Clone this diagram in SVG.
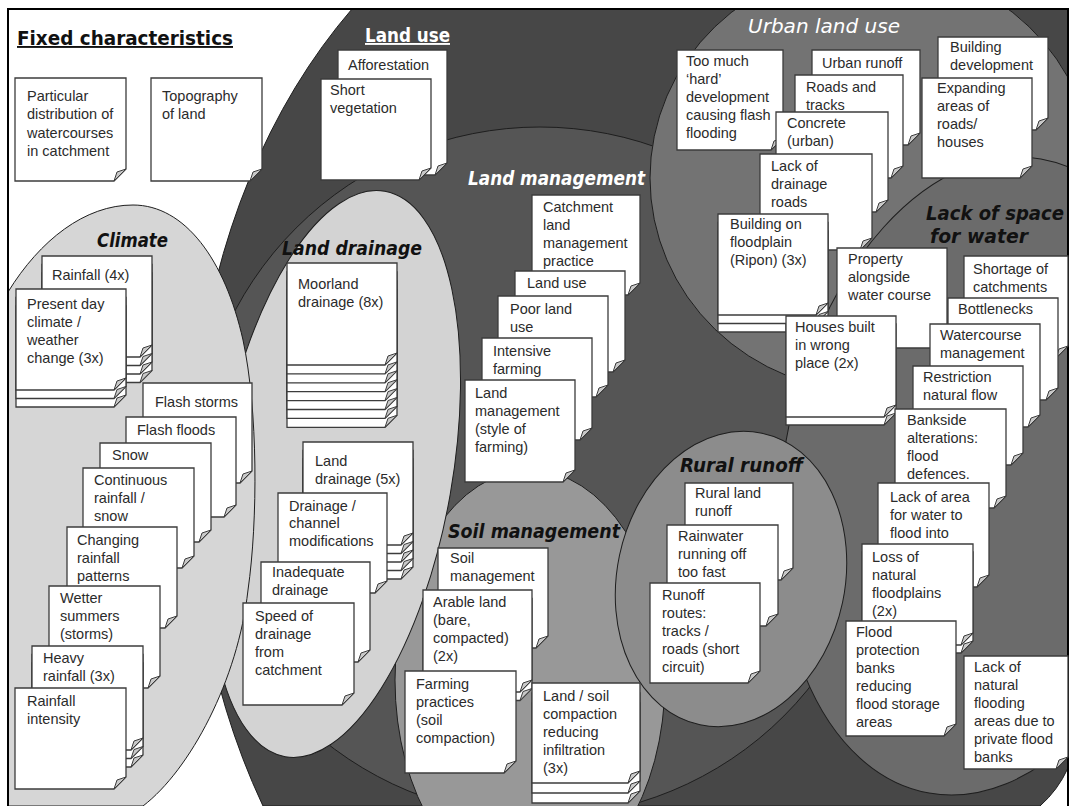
<svg xmlns="http://www.w3.org/2000/svg" width="1071" height="806" viewBox="0 0 1071 806">
<style>
.reg{stroke:#1e1e1e;stroke-width:1}
.n{fill:#fff;stroke:#3c3c3c;stroke-width:1.3}
.f{fill:#c8c8c8;stroke:#3c3c3c;stroke-width:1}
.t{font-family:"Liberation Sans",Arial,sans-serif;font-size:14.5px;fill:#2b2b2b}
.h{font-family:"DejaVu Sans","Liberation Sans",sans-serif;font-weight:bold;font-style:italic;font-size:19px}
.hw{fill:#fff}
.hb{fill:#111}
.up{font-style:normal}
.reg-w{font-weight:normal}
</style>
<defs>
<clipPath id="frame"><rect x="8" y="9" width="1060" height="797"/></clipPath>
<g id="s-ripon"><path class="n" d="M718 214H828V303L816 315H718Z"/><path class="f" d="M828 303L819 306L816 315Z"/></g>
<g id="s-rain4"><path class="n" d="M42 256H152V345L140 357H42Z"/><path class="f" d="M152 345L143 348L140 357Z"/></g>
<g id="s-present"><path class="n" d="M16 289H126V378L114 390H16Z"/><path class="f" d="M126 378L117 381L114 390Z"/></g>
<g id="s-heavy"><path class="n" d="M32 646H143V738L131 750H32Z"/><path class="f" d="M143 738L134 741L131 750Z"/></g>
<g id="s-moor"><path class="n" d="M287 263H397V353L385 365H287Z"/><path class="f" d="M397 353L388 356L385 365Z"/></g>
<g id="s-ld5"><path class="n" d="M303 442H413V533L401 545H303Z"/><path class="f" d="M413 533L404 536L401 545Z"/></g>
<g id="s-arable"><path class="n" d="M423 590H532V680L520 692H423Z"/><path class="f" d="M532 680L523 683L520 692Z"/></g>
<g id="s-lsc"><path class="n" d="M532 683H640V771L628 783H532Z"/><path class="f" d="M640 771L631 774L628 783Z"/></g>
<g id="s-houses"><path class="n" d="M786 316H896V405L884 417H786Z"/><path class="f" d="M896 405L887 408L884 417Z"/></g>
<g id="s-loss"><path class="n" d="M862 544H973V633L961 645H862Z"/><path class="f" d="M973 633L964 636L961 645Z"/></g>
</defs>
<rect x="0" y="0" width="1071" height="806" fill="#fff"/>
<g id="regions" clip-path="url(#frame)">
<path id="r-landuse" class="reg" d="M352 9A465 620 0 0 0 263 806L1040 806Q1058 790 1068 768V9Z" fill="#474747"/>
<circle id="r-landmgmt" class="reg" cx="540" cy="472" r="345" fill="#555"/>
<ellipse id="r-urban" class="reg" cx="872" cy="178" rx="222" ry="214" fill="#737373"/>
<ellipse id="r-space" class="reg" cx="985" cy="476" rx="202" ry="322" transform="rotate(10 985 476)" fill="#6b6b6b"/>
<ellipse id="r-soil" class="reg" cx="530" cy="680" rx="135" ry="210" fill="#989898"/>
<ellipse id="r-drainage" class="reg" cx="335" cy="474" rx="117" ry="287" transform="rotate(10 335 474)" fill="#d3d3d3"/>
<path id="r-climate" class="reg" d="M8 292C40 240 85 205 133 205C185 205 225 260 243 340C258 410 258 520 248 590C238 680 190 770 143 806L8 806Z" fill="#d6d6d6"/>
<ellipse id="r-rural" class="reg" cx="731" cy="579" rx="114" ry="149" transform="rotate(12 731 579)" fill="#8c8c8c"/>
</g>
<rect x="8" y="9" width="1060" height="800" fill="none" stroke="#000" stroke-width="2"/>
<g id="titles">
<text class="h hb up" x="17" y="45" font-size="18" textLength="216" lengthAdjust="spacingAndGlyphs" text-decoration="underline">Fixed characteristics</text>
<text class="h hw up" x="365" y="42" textLength="85" lengthAdjust="spacingAndGlyphs" text-decoration="underline">Land use</text>
<text class="h hw reg-w" x="748" y="33" textLength="152" lengthAdjust="spacingAndGlyphs">Urban land use</text>
<text class="h hw" x="468" y="185" textLength="177" lengthAdjust="spacingAndGlyphs">Land management</text>
<text class="h hb" x="97" y="247" textLength="71" lengthAdjust="spacingAndGlyphs">Climate</text>
<text class="h hb" x="282" y="255" textLength="140" lengthAdjust="spacingAndGlyphs">Land drainage</text>
<text class="h hb" x="448" y="538" textLength="172" lengthAdjust="spacingAndGlyphs">Soil management</text>
<text class="h hb" x="680" y="472" textLength="123" lengthAdjust="spacingAndGlyphs">Rural runoff</text>
<text class="h hb" x="926" y="220" textLength="138" lengthAdjust="spacingAndGlyphs">Lack of space</text>
<text class="h hb" x="930" y="243" textLength="98" lengthAdjust="spacingAndGlyphs">for water</text>
</g>
<g id="n-particular"><path class="n" d="M15 78H126V169L114 181H15Z"/><path class="f" d="M126 169L117 172L114 181Z"/><text class="t"><tspan x="27" y="101">Particular</tspan><tspan x="27" y="119">distribution of</tspan><tspan x="27" y="138">watercourses</tspan><tspan x="27" y="156">in catchment</tspan></text></g>
<g id="n-topography"><path class="n" d="M151 78H262V169L250 181H151Z"/><path class="f" d="M262 169L253 172L250 181Z"/><text class="t"><tspan x="162" y="101">Topography</tspan><tspan x="162" y="119">of land</tspan></text></g>
<g id="n-afforestation"><path class="n" d="M338 50H447V163L435 175H338Z"/><path class="f" d="M447 163L438 166L435 175Z"/><text class="t" x="348" y="70">Afforestation</text></g>
<g id="n-short"><path class="n" d="M321 79H431V168L419 180H321Z"/><path class="f" d="M431 168L422 171L419 180Z"/><text class="t"><tspan x="330" y="95">Short</tspan><tspan x="330" y="113">vegetation</tspan></text></g>
<g id="n-builddev"><path class="n" d="M938 37H1048V118L1036 130H938Z"/><path class="f" d="M1048 118L1039 121L1036 130Z"/><text class="t"><tspan x="950" y="52">Building</tspan><tspan x="950" y="70">development</tspan></text></g>
<g id="n-expanding"><path class="n" d="M922 78H1032V166L1020 178H922Z"/><path class="f" d="M1032 166L1023 169L1020 178Z"/><text class="t"><tspan x="937" y="93">Expanding</tspan><tspan x="937" y="111">areas of</tspan><tspan x="937" y="129">roads/</tspan><tspan x="937" y="147">houses</tspan></text></g>
<g id="n-toomuch"><path class="n" d="M677 50H783V138L771 150H677Z"/><path class="f" d="M783 138L774 141L771 150Z"/><text class="t"><tspan x="686" y="66">Too much</tspan><tspan x="686" y="84">‘hard’</tspan><tspan x="686" y="102">development</tspan><tspan x="686" y="120">causing flash</tspan><tspan x="686" y="138">flooding</tspan></text></g>
<g id="n-urbanrunoff"><path class="n" d="M812 50H920V133L908 145H812Z"/><path class="f" d="M920 133L911 136L908 145Z"/><text class="t" x="822" y="68">Urban runoff</text></g>
<g id="n-roads"><path class="n" d="M795 75H903V166L891 178H795Z"/><path class="f" d="M903 166L894 169L891 178Z"/><text class="t"><tspan x="806" y="92">Roads and</tspan><tspan x="806" y="110">tracks</tspan></text></g>
<g id="n-concrete"><path class="n" d="M776 112H888V200L876 212H776Z"/><path class="f" d="M888 200L879 203L876 212Z"/><text class="t"><tspan x="787" y="128">Concrete</tspan><tspan x="787" y="146">(urban)</tspan></text></g>
<g id="n-lackdrain"><path class="n" d="M760 154H872V238L860 250H760Z"/><path class="f" d="M872 238L863 241L860 250Z"/><text class="t"><tspan x="771" y="171">Lack of</tspan><tspan x="771" y="189">drainage</tspan><tspan x="771" y="207">roads</tspan></text></g>
<g id="n-ripon"><use href="#s-ripon" y="17"/><use href="#s-ripon" y="8.5"/><use href="#s-ripon"/><text class="t"><tspan x="730" y="229">Building on</tspan><tspan x="730" y="247">floodplain</tspan><tspan x="730" y="265">(Ripon) (3x)</tspan></text></g>
<g id="n-property"><path class="n" d="M837 248H947V336L935 348H837Z"/><path class="f" d="M947 336L938 339L935 348Z"/><text class="t"><tspan x="848" y="264">Property</tspan><tspan x="848" y="282">alongside</tspan><tspan x="848" y="300">water course</tspan></text></g>
<g id="n-houses"><use href="#s-houses" y="8"/><use href="#s-houses"/><text class="t"><tspan x="795" y="332">Houses built</tspan><tspan x="795" y="350">in wrong</tspan><tspan x="795" y="368">place (2x)</tspan></text></g>
<g id="n-catchment"><path class="n" d="M532 195H640V283L628 295H532Z"/><path class="f" d="M640 283L631 286L628 295Z"/><text class="t"><tspan x="543" y="212">Catchment</tspan><tspan x="543" y="230">land</tspan><tspan x="543" y="248">management</tspan><tspan x="543" y="266">practice</tspan></text></g>
<g id="n-landuse"><path class="n" d="M515 271H625V360L613 372H515Z"/><path class="f" d="M625 360L616 363L613 372Z"/><text class="t" x="527" y="288">Land use</text></g>
<g id="n-poor"><path class="n" d="M498 296H608V385L596 397H498Z"/><path class="f" d="M608 385L599 388L596 397Z"/><text class="t"><tspan x="510" y="314">Poor land</tspan><tspan x="510" y="332">use</tspan></text></g>
<g id="n-intensive"><path class="n" d="M482 338H592V428L580 440H482Z"/><path class="f" d="M592 428L583 431L580 440Z"/><text class="t"><tspan x="493" y="356">Intensive</tspan><tspan x="493" y="374">farming</tspan></text></g>
<g id="n-style"><path class="n" d="M465 380H575V470L563 482H465Z"/><path class="f" d="M575 470L566 473L563 482Z"/><text class="t"><tspan x="475" y="398">Land</tspan><tspan x="475" y="416">management</tspan><tspan x="475" y="434">(style of</tspan><tspan x="475" y="452">farming)</tspan></text></g>
<g id="n-rain4"><use href="#s-rain4" y="25.5"/><use href="#s-rain4" y="17"/><use href="#s-rain4" y="8.5"/><use href="#s-rain4"/><text class="t" x="52" y="280">Rainfall (4x)</text></g>
<g id="n-present"><use href="#s-present" y="17"/><use href="#s-present" y="8.5"/><use href="#s-present"/><text class="t"><tspan x="27" y="309">Present day</tspan><tspan x="27" y="327">climate /</tspan><tspan x="27" y="345">weather</tspan><tspan x="27" y="363">change (3x)</tspan></text></g>
<g id="n-flashstorms"><path class="n" d="M143 383H252V471L240 483H143Z"/><path class="f" d="M252 471L243 474L240 483Z"/><text class="t" x="155" y="407">Flash storms</text></g>
<g id="n-flashfloods"><path class="n" d="M126 417H236V505L224 517H126Z"/><path class="f" d="M236 505L227 508L224 517Z"/><text class="t" x="137" y="435">Flash floods</text></g>
<g id="n-snow"><path class="n" d="M100 443H211V530L199 542H100Z"/><path class="f" d="M211 530L202 533L199 542Z"/><text class="t" x="112" y="460">Snow</text></g>
<g id="n-continuous"><path class="n" d="M83 468H194V556L182 568H83Z"/><path class="f" d="M194 556L185 559L182 568Z"/><text class="t"><tspan x="94" y="485">Continuous</tspan><tspan x="94" y="503">rainfall /</tspan><tspan x="94" y="521">snow</tspan></text></g>
<g id="n-changing"><path class="n" d="M67 527H177V616L165 628H67Z"/><path class="f" d="M177 616L168 619L165 628Z"/><text class="t"><tspan x="77" y="545">Changing</tspan><tspan x="77" y="563">rainfall</tspan><tspan x="77" y="581">patterns</tspan></text></g>
<g id="n-wetter"><path class="n" d="M49 586H160V676L148 688H49Z"/><path class="f" d="M160 676L151 679L148 688Z"/><text class="t"><tspan x="60" y="603">Wetter</tspan><tspan x="60" y="621">summers</tspan><tspan x="60" y="639">(storms)</tspan></text></g>
<g id="n-heavy"><use href="#s-heavy" y="17"/><use href="#s-heavy" y="8.5"/><use href="#s-heavy"/><text class="t"><tspan x="43" y="663">Heavy</tspan><tspan x="43" y="681">rainfall (3x)</tspan></text></g>
<g id="n-intensity"><path class="n" d="M15 688H126V777L114 789H15Z"/><path class="f" d="M126 777L117 780L114 789Z"/><text class="t"><tspan x="27" y="706">Rainfall</tspan><tspan x="27" y="724">intensity</tspan></text></g>
<g id="n-moorland"><use href="#s-moor" y="62.3"/><use href="#s-moor" y="53.4"/><use href="#s-moor" y="44.5"/><use href="#s-moor" y="35.6"/><use href="#s-moor" y="26.7"/><use href="#s-moor" y="17.8"/><use href="#s-moor" y="8.9"/><use href="#s-moor"/><text class="t"><tspan x="298" y="289">Moorland</tspan><tspan x="298" y="307">drainage (8x)</tspan></text></g>
<g id="n-landdrain"><use href="#s-ld5" y="34"/><use href="#s-ld5" y="25.5"/><use href="#s-ld5" y="17"/><use href="#s-ld5" y="8.5"/><use href="#s-ld5"/><text class="t"><tspan x="315" y="466">Land</tspan><tspan x="315" y="484">drainage (5x)</tspan></text></g>
<g id="n-channel"><path class="n" d="M278 493H387V581L375 593H278Z"/><path class="f" d="M387 581L378 584L375 593Z"/><text class="t"><tspan x="289" y="511">Drainage /</tspan><tspan x="289" y="528">channel</tspan><tspan x="289" y="546">modifications</tspan></text></g>
<g id="n-inadequate"><path class="n" d="M261 562H370V650L358 662H261Z"/><path class="f" d="M370 650L361 653L358 662Z"/><text class="t"><tspan x="272" y="577">Inadequate</tspan><tspan x="272" y="595">drainage</tspan></text></g>
<g id="n-speed"><path class="n" d="M243 603H354V693L342 705H243Z"/><path class="f" d="M354 693L345 696L342 705Z"/><text class="t"><tspan x="255" y="621">Speed of</tspan><tspan x="255" y="639">drainage</tspan><tspan x="255" y="657">from</tspan><tspan x="255" y="675">catchment</tspan></text></g>
<g id="n-soil"><path class="n" d="M438 548H548V636L536 648H438Z"/><path class="f" d="M548 636L539 639L536 648Z"/><text class="t"><tspan x="450" y="563">Soil</tspan><tspan x="450" y="581">management</tspan></text></g>
<g id="n-arable"><use href="#s-arable" y="8.5"/><use href="#s-arable"/><text class="t"><tspan x="433" y="607">Arable land</tspan><tspan x="433" y="625">(bare,</tspan><tspan x="433" y="643">compacted)</tspan><tspan x="433" y="661">(2x)</tspan></text></g>
<g id="n-farming"><path class="n" d="M405 671H516V761L504 773H405Z"/><path class="f" d="M516 761L507 764L504 773Z"/><text class="t"><tspan x="416" y="689">Farming</tspan><tspan x="416" y="707">practices</tspan><tspan x="416" y="725">(soil</tspan><tspan x="416" y="743">compaction)</tspan></text></g>
<g id="n-compaction"><use href="#s-lsc" y="20"/><use href="#s-lsc" y="10"/><use href="#s-lsc"/><text class="t"><tspan x="543" y="701">Land / soil</tspan><tspan x="543" y="719">compaction</tspan><tspan x="543" y="737">reducing</tspan><tspan x="543" y="755">infiltration</tspan><tspan x="543" y="773">(3x)</tspan></text></g>
<g id="n-ruralland"><path class="n" d="M685 483H793V568L781 580H685Z"/><path class="f" d="M793 568L784 571L781 580Z"/><text class="t"><tspan x="695" y="498">Rural land</tspan><tspan x="695" y="516">runoff</tspan></text></g>
<g id="n-rainwater"><path class="n" d="M667 525H778V614L766 626H667Z"/><path class="f" d="M778 614L769 617L766 626Z"/><text class="t"><tspan x="678" y="541">Rainwater</tspan><tspan x="678" y="559">running off</tspan><tspan x="678" y="577">too fast</tspan></text></g>
<g id="n-routes"><path class="n" d="M650 583H760V671L748 683H650Z"/><path class="f" d="M760 671L751 674L748 683Z"/><text class="t"><tspan x="662" y="600">Runoff</tspan><tspan x="662" y="618">routes:</tspan><tspan x="662" y="636">tracks /</tspan><tspan x="662" y="654">roads (short</tspan><tspan x="662" y="672">circuit)</tspan></text></g>
<g id="n-shortage"><path class="n" d="M964 256H1068V346L1056 358H964Z"/><path class="f" d="M1068 346L1059 349L1056 358Z"/><text class="t"><tspan x="973" y="274">Shortage of</tspan><tspan x="973" y="292">catchments</tspan></text></g>
<g id="n-bottlenecks"><path class="n" d="M948 298H1058V388L1046 400H948Z"/><path class="f" d="M1058 388L1049 391L1046 400Z"/><text class="t" x="958" y="314">Bottlenecks</text></g>
<g id="n-watercourse"><path class="n" d="M930 324H1040V415L1028 427H930Z"/><path class="f" d="M1040 415L1031 418L1028 427Z"/><text class="t"><tspan x="940" y="340">Watercourse</tspan><tspan x="940" y="358">management</tspan></text></g>
<g id="n-restriction"><path class="n" d="M913 366H1023V453L1011 465H913Z"/><path class="f" d="M1023 453L1014 456L1011 465Z"/><text class="t"><tspan x="923" y="382">Restriction</tspan><tspan x="923" y="400">natural flow</tspan></text></g>
<g id="n-bankside"><path class="n" d="M895 409H1006V496L994 508H895Z"/><path class="f" d="M1006 496L997 499L994 508Z"/><text class="t"><tspan x="907" y="425">Bankside</tspan><tspan x="907" y="443">alterations:</tspan><tspan x="907" y="461">flood</tspan><tspan x="907" y="479">defences.</tspan></text></g>
<g id="n-lackarea"><path class="n" d="M878 483H989V575L977 587H878Z"/><path class="f" d="M989 575L980 578L977 587Z"/><text class="t"><tspan x="890" y="502">Lack of area</tspan><tspan x="890" y="520">for water to</tspan><tspan x="890" y="538">flood into</tspan></text></g>
<g id="n-loss"><use href="#s-loss" y="8"/><use href="#s-loss"/><text class="t"><tspan x="872" y="562">Loss of</tspan><tspan x="872" y="580">natural</tspan><tspan x="872" y="598">floodplains</tspan><tspan x="872" y="616">(2x)</tspan></text></g>
<g id="n-protection"><path class="n" d="M846 621H956V724L944 736H846Z"/><path class="f" d="M956 724L947 727L944 736Z"/><text class="t"><tspan x="856" y="637">Flood</tspan><tspan x="856" y="655">protection</tspan><tspan x="856" y="673">banks</tspan><tspan x="856" y="691">reducing</tspan><tspan x="856" y="709">flood storage</tspan><tspan x="856" y="727">areas</tspan></text></g>
<g id="n-lacknatural"><path class="n" d="M964 656H1068V757L1056 769H964Z"/><path class="f" d="M1068 757L1059 760L1056 769Z"/><text class="t"><tspan x="974" y="672">Lack of</tspan><tspan x="974" y="690">natural</tspan><tspan x="974" y="708">flooding</tspan><tspan x="974" y="726">areas due to</tspan><tspan x="974" y="744">private flood</tspan><tspan x="974" y="762">banks</tspan></text></g>
</svg>
